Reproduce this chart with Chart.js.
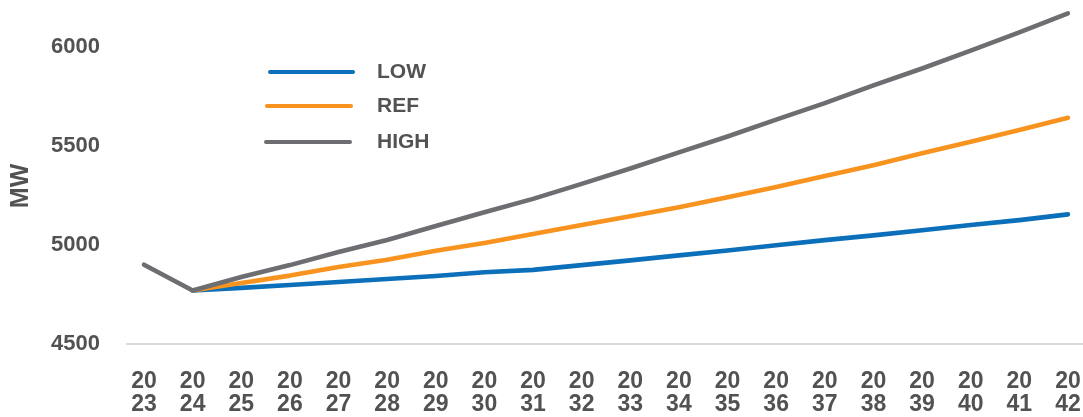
<!DOCTYPE html>
<html>
<head>
<meta charset="utf-8">
<script src="https://cdn.jsdelivr.net/npm/chart.js@4.4.1/dist/chart.umd.min.js"></script>
<style>
    html, body { margin: 0; padding: 0; background: #fff; }
    #wrap { width: 1083px; height: 417px; position: relative; }
</style>
</head>
<body>
<div id="wrap"><canvas id="chart"></canvas></div>
<script>
// данные с картинки
const years = [2023, 2024, 2025, 2026, 2027, 2028, 2029, 2030, 2031, 2032,
               2033, 2034, 2035, 2036, 2037, 2038, 2039, 2040, 2041, 2042];
const lowValues = [null, 4770, 4783, 4798, 4813, 4828, 4843, 4862, 4874, 4898,
                   4922, 4947, 4972, 4998, 5024, 5048, 5074, 5100, 5125, 5154];
const refValues = [null, 4770, 4808, 4845, 4888, 4925, 4970, 5010, 5055, 5100,
                   5145, 5190, 5240, 5292, 5347, 5402, 5462, 5520, 5580, 5641];
const highValues = [4900, 4770, 4838, 4898, 4964, 5025, 5095, 5165, 5232, 5308,
                    5385, 5467, 5547, 5632, 5715, 5805, 5890, 5980, 6072, 6168];
const yTicks = [4500, 5000, 5500, 6000];

const textColor = '#525252';
const fontFamily = '"Liberation Sans", Arial, sans-serif';

function toPoints(values) {
    return years.map((year, i) => ({ x: year, y: values[i] }));
}

// легенда внутри графика, столбиком
const innerLegend = {
    id: 'innerLegend',
    afterDraw(chart) {
        const ctx = chart.ctx;
        const rows = [
            { y: 72, x1: 270, x2: 353 },
            { y: 106, x1: 267, x2: 351 },
            { y: 142, x1: 266, x2: 350 }
        ];
        ctx.save();
        chart.data.datasets.forEach((ds, i) => {
            const row = rows[i];
            ctx.strokeStyle = ds.borderColor;
            ctx.lineWidth = 4;
            ctx.lineCap = 'round';
            ctx.beginPath();
            ctx.moveTo(row.x1, row.y);
            ctx.lineTo(row.x2, row.y);
            ctx.stroke();
            ctx.fillStyle = textColor;
            ctx.font = 'bold 21px ' + fontFamily;
            ctx.textBaseline = 'middle';
            ctx.fillText(ds.label, 377, row.y);
        });
        ctx.restore();
    }
};

new Chart(document.getElementById('chart'), {
    type: 'line',
    data: {
        datasets: [
            { label: 'LOW', data: toPoints(lowValues), borderColor: '#0B6FBA', order: 2 },
            { label: 'REF', data: toPoints(refValues), borderColor: '#F7931E', order: 1 },
            { label: 'HIGH', data: toPoints(highValues), borderColor: '#6D6E71', order: 0 }
        ]
    },
    options: {
        responsive: true,
        maintainAspectRatio: false,
        animation: false,
        layout: { padding: { top: 7, right: 0, left: 0, bottom: 0 } },
        elements: {
            line: { borderWidth: 4.6, tension: 0, borderCapStyle: 'round', borderJoinStyle: 'round' },
            point: { radius: 0, hoverRadius: 0 }
        },
        plugins: {
            legend: { display: false },
            tooltip: { enabled: false }
        },
        scales: {
            x: {
                type: 'linear',
                min: 2022.65,
                max: 2042.31,
                afterBuildTicks(scale) {
                    scale.ticks = years.map(y => ({ value: y }));
                },
                afterFit(scale) {
                    scale.height = 73;
                    scale.paddingLeft = 0;
                    scale.paddingRight = 0;
                },
                grid: { display: false, drawTicks: false },
                border: { display: true, color: '#D9D9D9', width: 2 },
                ticks: {
                    autoSkip: false,
                    maxRotation: 0,
                    padding: 26.5,
                    color: textColor,
                    font: { family: fontFamily, size: 23, weight: 'bold', lineHeight: '23px' },
                    callback: (value) => {
                        const s = String(value);
                        return [s.slice(0, 2), s.slice(2)];
                    }
                }
            },
            y: {
                min: 4500,
                max: 6200,
                afterBuildTicks(scale) {
                    scale.ticks = yTicks.map(v => ({ value: v }));
                },
                afterFit(scale) {
                    scale.width = 127;
                    scale.paddingTop = 0;
                    scale.paddingBottom = 0;
                },
                grid: { display: false, drawTicks: false },
                border: { display: false },
                ticks: {
                    padding: 27,
                    color: textColor,
                    font: { family: fontFamily, size: 22, weight: 'bold' },
                    callback: (value) => String(value)
                },
                title: {
                    display: true,
                    text: 'MW   ', // пробелы сдвигают подпись чуть ниже, как в оригинале
                    color: textColor,
                    padding: { top: 6, bottom: 0 },
                    font: { family: fontFamily, size: 25, weight: 'bold' }
                }
            }
        }
    },
    plugins: [innerLegend]
});
</script>
</body>
</html>
